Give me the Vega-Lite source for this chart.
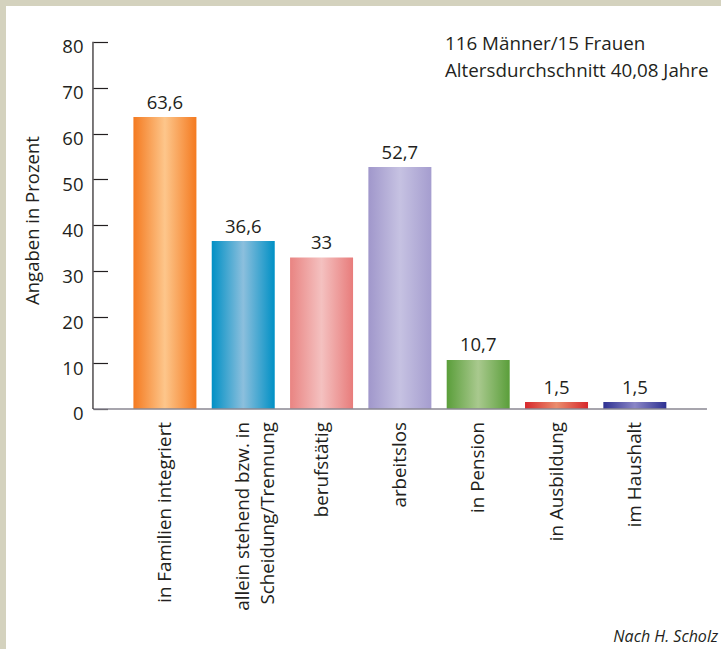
{
  "$schema": "https://vega.github.io/schema/vega-lite/v6.json",
  "width": 715,
  "height": 643,
  "autosize": {"type": "none"},
  "padding": {"left": 6, "top": 6, "right": 0, "bottom": 0},
  "background": "#d4d2be",
  "config": {
    "view": {"fill": "white", "stroke": null},
    "locale": {"number": {"decimal": ",", "thousands": ".", "grouping": [3], "currency": ["", " €"]}},
    "text": {"font": "Open Sans", "fontSize": 18.5, "color": "#231f20"}
  },
  "data": {
    "values": [
      {"k": 0, "name": "in Familien integriert", "v": 63.6},
      {"k": 1, "name": ["allein stehend bzw. in", "Scheidung/Trennung"], "v": 36.6},
      {"k": 2, "name": "berufstätig", "v": 33},
      {"k": 3, "name": "arbeitslos", "v": 52.7},
      {"k": 4, "name": "in Pension", "v": 10.7},
      {"k": 5, "name": "in Ausbildung", "v": 1.5},
      {"k": 6, "name": "im Haushalt", "v": 1.5}
    ]
  },
  "layer": [
    {
      "transform": [{"filter": "datum.k == 0"}],
      "mark": {"type": "bar", "orient": "vertical", "width": 63,
        "fill": {"gradient": "linear", "x1": 0, "x2": 1, "y1": 0, "y2": 0,
          "stops": [{"offset": 0, "color": "#f47a20"}, {"offset": 0.5, "color": "#fdc68b"}, {"offset": 1, "color": "#f47a20"}]}},
      "encoding": {
        "x": {"field": "k", "type": "quantitative", "scale": {"domain": [-2.029, 7.1], "nice": false, "padding": 0}, "axis": null},
        "y": {"field": "v", "type": "quantitative", "scale": {"domain": [-52.29, 87.8], "nice": false, "padding": 0},
          "axis": {
            "values": [0, 10, 20, 30, 40, 50, 60, 70, 80],
            "domain": false, "grid": false, "offset": -101.5,
            "tickSize": 14.5, "tickColor": "#231f20", "tickWidth": 1.2,
            "labelPadding": 10, "labelFont": "Open Sans", "labelFontSize": 18.5, "labelColor": "#231f20",
            "labelBaseline": "alphabetic", "labelOffset": 11,
            "title": "Angaben in Prozent", "titleFont": "Open Sans", "titleFontSize": 18.5, "titleFontWeight": "normal",
            "titleColor": "#231f20", "titleX": -75.5, "titleY": 214, "titleAngle": 270, "titleAlign": "center", "titleBaseline": "middle"
          }}
      }
    },
    {
      "transform": [{"filter": "datum.k == 1"}],
      "mark": {"type": "bar", "orient": "vertical", "width": 63,
        "fill": {"gradient": "linear", "x1": 0, "x2": 1, "y1": 0, "y2": 0,
          "stops": [{"offset": 0, "color": "#0090c5"}, {"offset": 0.5, "color": "#8cbfdd"}, {"offset": 1, "color": "#0090c5"}]}},
      "encoding": {
        "x": {"field": "k", "type": "quantitative", "scale": {"domain": [-2.029, 7.1], "nice": false, "padding": 0}, "axis": null},
        "y": {"field": "v", "type": "quantitative", "scale": {"domain": [-52.29, 87.8], "nice": false, "padding": 0}}
      }
    },
    {
      "transform": [{"filter": "datum.k == 2"}],
      "mark": {"type": "bar", "orient": "vertical", "width": 63,
        "fill": {"gradient": "linear", "x1": 0, "x2": 1, "y1": 0, "y2": 0,
          "stops": [{"offset": 0, "color": "#e98482"}, {"offset": 0.5, "color": "#f4c1c0"}, {"offset": 1, "color": "#e87c7b"}]}},
      "encoding": {
        "x": {"field": "k", "type": "quantitative", "scale": {"domain": [-2.029, 7.1], "nice": false, "padding": 0}, "axis": null},
        "y": {"field": "v", "type": "quantitative", "scale": {"domain": [-52.29, 87.8], "nice": false, "padding": 0}}
      }
    },
    {
      "transform": [{"filter": "datum.k == 3"}],
      "mark": {"type": "bar", "orient": "vertical", "width": 63,
        "fill": {"gradient": "linear", "x1": 0, "x2": 1, "y1": 0, "y2": 0,
          "stops": [{"offset": 0, "color": "#a097cb"}, {"offset": 0.5, "color": "#c6c2e2"}, {"offset": 1, "color": "#a59dcf"}]}},
      "encoding": {
        "x": {"field": "k", "type": "quantitative", "scale": {"domain": [-2.029, 7.1], "nice": false, "padding": 0}, "axis": null},
        "y": {"field": "v", "type": "quantitative", "scale": {"domain": [-52.29, 87.8], "nice": false, "padding": 0}}
      }
    },
    {
      "transform": [{"filter": "datum.k == 4"}],
      "mark": {"type": "bar", "orient": "vertical", "width": 63,
        "fill": {"gradient": "linear", "x1": 0, "x2": 1, "y1": 0, "y2": 0,
          "stops": [{"offset": 0, "color": "#5a9e3a"}, {"offset": 0.5, "color": "#a9c98e"}, {"offset": 1, "color": "#5a9e3a"}]}},
      "encoding": {
        "x": {"field": "k", "type": "quantitative", "scale": {"domain": [-2.029, 7.1], "nice": false, "padding": 0}, "axis": null},
        "y": {"field": "v", "type": "quantitative", "scale": {"domain": [-52.29, 87.8], "nice": false, "padding": 0}}
      }
    },
    {
      "transform": [{"filter": "datum.k == 5"}],
      "mark": {"type": "bar", "orient": "vertical", "width": 63,
        "fill": {"gradient": "linear", "x1": 0, "x2": 1, "y1": 0, "y2": 0,
          "stops": [{"offset": 0, "color": "#d7282c"}, {"offset": 0.5, "color": "#ea8d6d"}, {"offset": 1, "color": "#d7282c"}]}},
      "encoding": {
        "x": {"field": "k", "type": "quantitative", "scale": {"domain": [-2.029, 7.1], "nice": false, "padding": 0}, "axis": null},
        "y": {"field": "v", "type": "quantitative", "scale": {"domain": [-52.29, 87.8], "nice": false, "padding": 0}}
      }
    },
    {
      "transform": [{"filter": "datum.k == 6"}],
      "mark": {"type": "bar", "orient": "vertical", "width": 63,
        "fill": {"gradient": "linear", "x1": 0, "x2": 1, "y1": 0, "y2": 0,
          "stops": [{"offset": 0, "color": "#2e3192"}, {"offset": 0.5, "color": "#8a86c6"}, {"offset": 1, "color": "#2e3192"}]}},
      "encoding": {
        "x": {"field": "k", "type": "quantitative", "scale": {"domain": [-2.029, 7.1], "nice": false, "padding": 0}, "axis": null},
        "y": {"field": "v", "type": "quantitative", "scale": {"domain": [-52.29, 87.8], "nice": false, "padding": 0}}
      }
    },
    {
      "data": {"values": [{}]},
      "mark": {"type": "rule", "color": "#8a8792", "strokeWidth": 1.5},
      "encoding": {
        "x": {"datum": -0.9186, "type": "quantitative", "scale": {"domain": [-2.029, 7.1], "nice": false, "padding": 0}, "axis": null},
        "x2": {"datum": 6.921},
        "y": {"datum": 0, "type": "quantitative", "scale": {"domain": [-52.29, 87.8], "nice": false, "padding": 0}}
      }
    },
    {
      "data": {"values": [{}]},
      "mark": {"type": "rule", "color": "#231f20", "strokeWidth": 1.2},
      "encoding": {
        "x": {"datum": -0.9186, "type": "quantitative", "scale": {"domain": [-2.029, 7.1], "nice": false, "padding": 0}, "axis": null},
        "y": {"datum": 0, "type": "quantitative", "scale": {"domain": [-52.29, 87.8], "nice": false, "padding": 0}},
        "y2": {"datum": 80}
      }
    },
    {
      "mark": {"type": "text", "baseline": "alphabetic", "align": "center", "dy": -8.5},
      "encoding": {
        "x": {"field": "k", "type": "quantitative", "scale": {"domain": [-2.029, 7.1], "nice": false, "padding": 0}, "axis": null},
        "y": {"field": "v", "type": "quantitative", "scale": {"domain": [-52.29, 87.8], "nice": false, "padding": 0}},
        "text": {"field": "v", "type": "quantitative", "format": ".1~f"}
      }
    },
    {
      "mark": {"type": "text", "angle": 270, "align": "right", "baseline": "middle", "dx": -13, "lineHeight": 25, "fontSize": 18.8},
      "encoding": {
        "x": {"field": "k", "type": "quantitative", "scale": {"domain": [-2.029, 7.1], "nice": false, "padding": 0}, "axis": null},
        "y": {"datum": 0, "type": "quantitative", "scale": {"domain": [-52.29, 87.8], "nice": false, "padding": 0}},
        "text": {"field": "name", "type": "nominal"}
      }
    },
    {
      "data": {"values": [{}]},
      "mark": {"type": "text", "align": "left", "baseline": "alphabetic", "lineHeight": 27, "fontSize": 18.8},
      "encoding": {
        "x": {"datum": 3.576, "type": "quantitative", "scale": {"domain": [-2.029, 7.1], "nice": false, "padding": 0}, "axis": null},
        "y": {"datum": 78.32, "type": "quantitative", "scale": {"domain": [-52.29, 87.8], "nice": false, "padding": 0}},
        "text": {"value": ["116 Männer/15 Frauen", "Altersdurchschnitt 40,08 Jahre"]}
      }
    },
    {
      "data": {"values": [{}]},
      "mark": {"type": "text", "align": "right", "baseline": "alphabetic", "fontStyle": "italic", "fontSize": 16},
      "encoding": {
        "x": {"datum": 7.062, "type": "quantitative", "scale": {"domain": [-2.029, 7.1], "nice": false, "padding": 0}, "axis": null},
        "y": {"datum": -50.76, "type": "quantitative", "scale": {"domain": [-52.29, 87.8], "nice": false, "padding": 0}},
        "text": {"value": "Nach H. Scholz"}
      }
    }
  ]
}
